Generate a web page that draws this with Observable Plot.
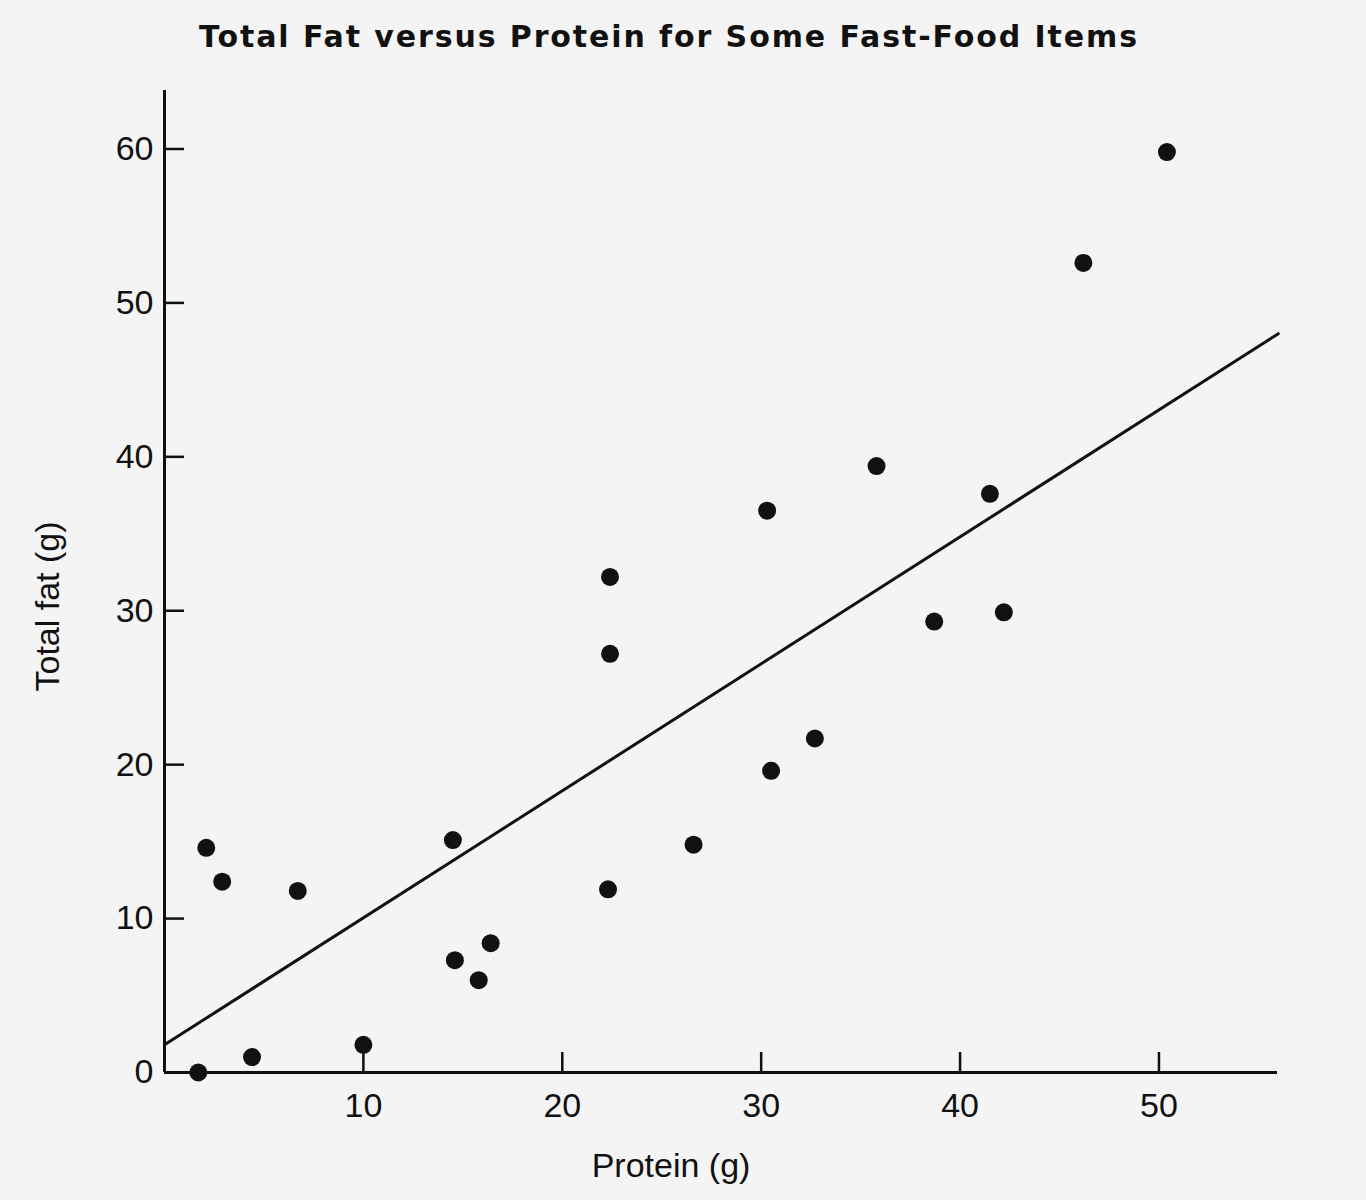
<!DOCTYPE html>
<html>
<head>
<meta charset="utf-8">
<script src="https://cdn.jsdelivr.net/npm/d3@7"></script>
<script src="https://cdn.jsdelivr.net/npm/@observablehq/plot@0.6"></script>
<style>
  html, body { margin: 0; padding: 0; background: #f4f4f4; }
  #wrap { width: 1366px; }
  #titlebox { position: relative; height: 70px; }
  #title {
    position: absolute; left: 0; width: 1338px; top: 21px;
    text-align: center; font-family: "DejaVu Sans", sans-serif; font-weight: bold;
    font-size: 30px; line-height: 32px; color: #111; letter-spacing: 1.9px;
  }
</style>
</head>
<body>
<div id="wrap">
  <div id="titlebox"><div id="title">Total Fat versus Protein for Some Fast-Food Items</div></div>
  <div id="chart"></div>
</div>
<script>
const titleText = "Total Fat versus Protein for Some Fast-Food Items";
const xLabel = "Protein (g)";
const yLabel = "Total fat (g)";

// Protein (g) and total fat (g) for each item
const protein = [1.7, 2.1, 2.9, 4.4, 6.7, 10.0, 14.5, 14.6, 15.8, 16.4, 22.4, 22.4, 22.3, 26.6, 30.3, 30.5, 32.7, 35.8, 38.7, 41.5, 42.2, 46.2, 50.4];
const fat     = [0.0, 14.6, 12.4, 1.0, 11.8, 1.8, 15.1, 7.3, 6.0, 8.4, 32.2, 27.2, 11.9, 14.8, 36.5, 19.6, 21.7, 39.4, 29.3, 37.6, 29.9, 52.6, 59.8];

// Fitted line endpoints
const lineProtein = [0, 56.0];
const lineFat = [1.8, 48.0];

const xTicks = [10, 20, 30, 40, 50];
const yTicks = [0, 10, 20, 30, 40, 50, 60];

const points = protein.map((p, i) => ({protein: p, fat: fat[i]}));
const fitLine = lineProtein.map((p, i) => ({protein: p, fat: lineFat[i]}));

document.getElementById("title").textContent = titleText;

const ink = "#111";
const chart = Plot.plot({
  width: 1366,
  height: 1130,
  marginLeft: 164,
  marginRight: 89,
  marginTop: 20,
  marginBottom: 128,
  style: {background: "#f4f4f4", fontFamily: "'Liberation Sans', Arial, sans-serif", color: ink},
  x: {domain: [0, 55.96], label: null},
  y: {domain: [0, 63.8], label: null},
  marks: [
    Plot.axisX({ticks: xTicks, tickSize: -20, tickPadding: 40, strokeWidth: 2.5, fontSize: 34, label: null, tickFormat: d => String(d)}),
    Plot.axisY({ticks: yTicks, tickSize: -20, tickPadding: 31, strokeWidth: 2.5, fontSize: 34, label: null, tickFormat: d => String(d)}),
    Plot.ruleX([0], {stroke: ink, strokeWidth: 3}),
    Plot.ruleY([0], {stroke: ink, strokeWidth: 3}),
    Plot.line(fitLine, {x: "protein", y: "fat", stroke: ink, strokeWidth: 3, clip: false}),
    Plot.dot(points, {x: "protein", y: "fat", r: 9, fill: ink, stroke: "none"}),
    Plot.text([xLabel], {frameAnchor: "bottom", text: d => d, textAnchor: "middle", dx: -50, dy: 94, fontSize: 34, fill: ink, lineAnchor: "middle"}),
    Plot.text([yLabel], {frameAnchor: "left", text: d => d, textAnchor: "middle", rotate: -90, dx: -116, dy: 25, fontSize: 34, fill: ink, lineAnchor: "middle"})
  ]
});
document.getElementById("chart").appendChild(chart);
</script>
</body>
</html>
